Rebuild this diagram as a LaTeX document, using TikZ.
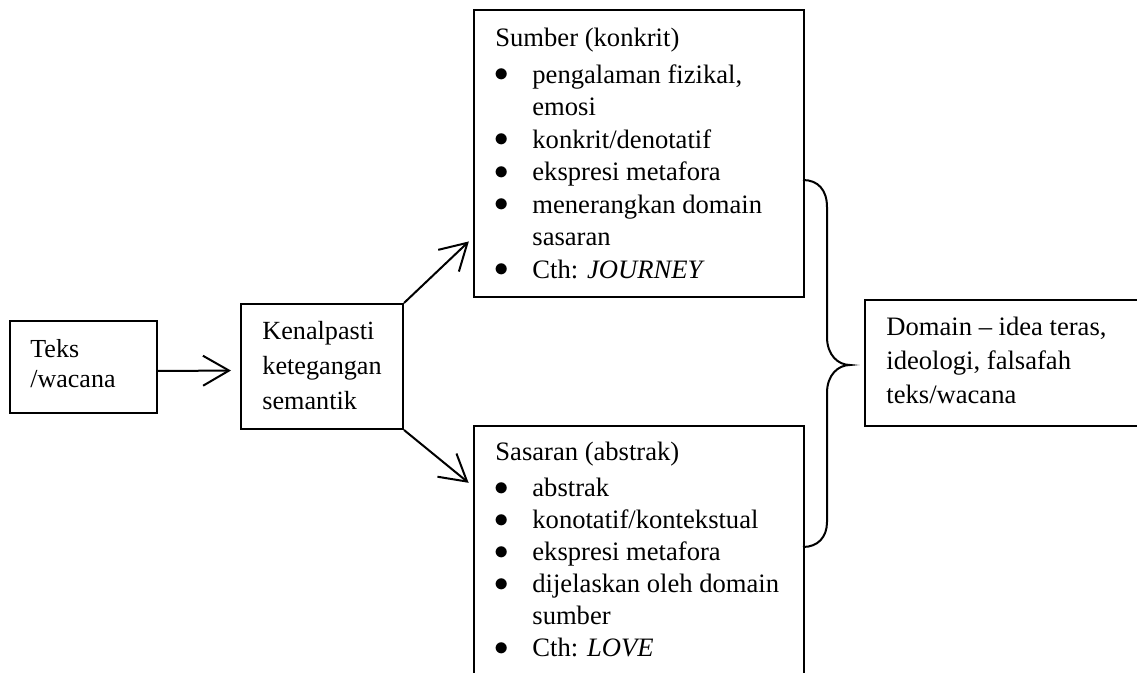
\documentclass[tikz,border=0pt]{standalone}
\usepackage{fontspec}
\setmainfont{Liberation Serif}
\usetikzlibrary{arrows.meta}
\newcommand{\bitem}[1]{\makebox[18.5pt][l]{\hspace{-0.3pt}\raisebox{0.8pt}{$\bullet$}}#1}
\newcommand{\bcont}[1]{\hspace*{18.5pt}#1}
\begin{document}
\begin{tikzpicture}[x=0.5pt,y=-0.5pt,
  box/.style={draw, line width=1pt, inner sep=0pt},
  txt/.style={inner sep=0pt, anchor=north west, align=left},
  arr/.style={line width=1pt, -{Straight Barb[length=13pt,width=15pt,line width=1pt]}},
  brace/.style={line width=1pt}
]
\useasboundingbox (0,0) rectangle (1137,673);
\clip (0,0) rectangle (1137,673);

% boxes
\node[box, minimum width=73.5pt, minimum height=46pt] (teks) at (83.5,367) {};
\node[box, minimum width=81pt, minimum height=62.5pt] (kenal) at (322,366.5) {};
\node[box, minimum width=165pt, minimum height=143.5pt] (sumber) at (638.5,153.5) {};
\node[box, minimum width=165pt, minimum height=143.5pt] (sasaran) at (638.5,569.5) {};
\node[box, minimum width=150pt, minimum height=63pt] (domain) at (1015,363) {};

% texts
\node[txt, font=\fontsize{13}{15}\selectfont] (teksT) at (30,333)
  {\rule{0pt}{12pt}Teks\\/wacana};
\node[txt, font=\fontsize{13.1}{17.5}\selectfont] (kenalT) at (262,315)
  {\rule{0pt}{12pt}Kenalpasti\\ketegangan\\semantik};
\node[txt, font=\fontsize{13.3}{16.25}\selectfont] (sumberT) at (495,22)
  {\rule{0pt}{12pt}Sumber (konkrit)\\[2.3pt]
   \bitem{pengalaman fizikal,}\\
   \bcont{emosi}\\
   \bitem{konkrit/denotatif}\\
   \bitem{ekspresi metafora}\\
   \bitem{menerangkan domain}\\
   \bcont{sasaran}\\
   \bitem{Cth: \textit{JOURNEY}}};
\node[txt, font=\fontsize{13.3}{16}\selectfont] (sasaranT) at (495,436)
  {\rule{0pt}{12pt}Sasaran (abstrak)\\[2.3pt]
   \bitem{abstrak}\\
   \bitem{konotatif/kontekstual}\\
   \bitem{ekspresi metafora}\\
   \bitem{dijelaskan oleh domain}\\
   \bcont{sumber}\\
   \bitem{Cth: \textit{LOVE}}};
\node[txt, font=\fontsize{13.3}{17}\selectfont] (domainT) at (886,311)
  {\rule{0pt}{12pt}Domain \textendash{} idea teras,\\ideologi, falsafah\\teks/wacana};

% arrows
\draw[arr, shorten >=4.5pt] ([yshift=-2pt]teks.east) -- ([yshift=-2pt]kenal.west);
\draw[arr, shorten >=2.5pt] (kenal.north east) -- ([yshift=30pt]sumber.south west);
\draw[arr, shorten >=2.5pt] (kenal.south east) -- ([yshift=-30.5pt]sasaran.north west);

% brace
\coordinate (btop) at (803,180);
\coordinate (btip) at (850,365);
\coordinate (bbot) at (803,547);
\draw[brace] (btop) .. controls (818,180) and (827,190) .. (827,207)
  -- (827,337) .. controls (827,355) and (838,365) .. (btip)
  .. controls (838,365) and (827,375) .. (827,393)
  -- (827,522) .. controls (827,537) and (818,547) .. (bbot);
\end{tikzpicture}
\end{document}
